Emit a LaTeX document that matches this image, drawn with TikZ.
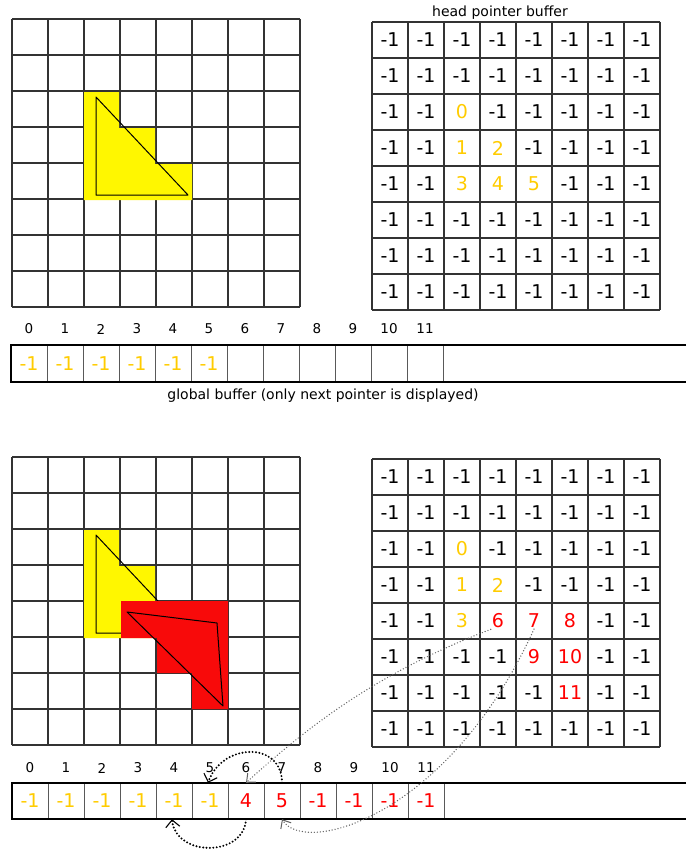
\documentclass[tikz,border=0pt]{standalone}
\usepackage{fontspec}
\setmainfont{DejaVu Sans}
\usetikzlibrary{arrows.meta}
\definecolor{gold}{HTML}{FFCC00}
\definecolor{fillyel}{HTML}{FFF700}
\definecolor{myred}{HTML}{FF0000}
\definecolor{fillred}{HTML}{F80A0A}
\begin{document}
\begin{tikzpicture}[x=1pt,y=-1pt,
  gridline/.style={line width=1.3pt, draw=black!80},
  divider/.style={line width=1.3pt, draw=black!65},
  outer/.style={line width=2pt, draw=black},
  val/.style={font=\fontsize{19}{19}\selectfont, inner sep=1pt},
  idx/.style={font=\fontsize{13.5}{14}\selectfont, inner sep=1pt},
  caption/.style={font=\fontsize{14}{15}\selectfont, inner sep=1pt},
  bufcell/.style={minimum width=36pt, minimum height=36pt, inner sep=0pt, font=\fontsize{19}{19}\selectfont},
  tri/.style={draw=black, line width=1pt, line join=round},
  bigdot/.style={draw=black, line width=2.2pt, line cap=round, dash pattern=on 0pt off 3.4pt,
     -{Straight Barb[length=7pt,width=14pt,line width=1.1pt]}},
  thindot/.style={draw=black!62, line width=1.4pt, line cap=round, dash pattern=on 0pt off 3pt,
     -{Straight Barb[length=7pt,width=12pt,line width=1pt]}}]
\fill[white] (0,0) rectangle (686,851);
\useasboundingbox (0,0) rectangle (686,851);

% ---------------- TOP ----------------
% left grid
\foreach \i in {0,...,8}{
  \draw[gridline] (12+36*\i,19) -- (12+36*\i,307);
  \draw[gridline] (12,19+36*\i) -- (300,19+36*\i);
}
\fill[fillyel] (84,92) -- (119,92) -- (119,128) -- (155,128) -- (155,164) -- (192,164)
  -- (192,200) -- (84,200) -- cycle;
\draw[tri] (96,97) -- (96,195) -- (188,195) -- cycle;

% right grid
\node[caption] (hpcap) at (500,13) {head pointer buffer};
\foreach \i in {0,...,8}{
  \draw[gridline] (372+36*\i,22) -- (372+36*\i,310);
  \draw[gridline] (372,22+36*\i) -- (660,22+36*\i);
}
\foreach \row [count=\r from 0] in {
  {black/-1,black/-1,black/-1,black/-1,black/-1,black/-1,black/-1,black/-1},
  {black/-1,black/-1,black/-1,black/-1,black/-1,black/-1,black/-1,black/-1},
  {black/-1,black/-1,gold/0,black/-1,black/-1,black/-1,black/-1,black/-1},
  {black/-1,black/-1,gold/1,gold/2,black/-1,black/-1,black/-1,black/-1},
  {black/-1,black/-1,gold/3,gold/4,gold/5,black/-1,black/-1,black/-1},
  {black/-1,black/-1,black/-1,black/-1,black/-1,black/-1,black/-1,black/-1},
  {black/-1,black/-1,black/-1,black/-1,black/-1,black/-1,black/-1,black/-1},
  {black/-1,black/-1,black/-1,black/-1,black/-1,black/-1,black/-1,black/-1}}{
  \foreach \col/\txt [count=\c from 0] in \row {
    \node[val, text=\col] (ht-\r-\c) at (390+36*\c, 40+36*\r) {\txt};
  }
}

% top buffer
\foreach \i in {0,...,11}{
  \node[bufcell] (ta\i) at (29+36*\i, 363.5) {};
  \draw[divider] (ta\i.north east) -- (ta\i.south east);
  \node[idx] (ti\i) at (29+36*\i, 329) {\i};
}
\foreach \i in {0,...,5}{
  \node[val, text=gold] (tv\i) at (ta\i) {-1};
}
\draw[outer] (686,345) -- (11,345) -- (11,382) -- (686,382);
\node[caption] (gbcap) at (323,396) {global buffer (only next pointer is displayed)};

% ---------------- BOTTOM ----------------
\foreach \i in {0,...,8}{
  \draw[gridline] (12+36*\i,457) -- (12+36*\i,745);
  \draw[gridline] (12,457+36*\i) -- (300,457+36*\i);
}
\fill[fillyel] (84,530) -- (119,530) -- (119,566) -- (155,566) -- (155,638) -- (84,638) -- cycle;
\draw[tri] (96,535) -- (96,633) -- (188,633) -- cycle;
\fill[fillred] (121,601) -- (228,601) -- (228,709) -- (192,709) -- (192,673) -- (157,673)
  -- (157,638) -- (121,638) -- cycle;
\draw[tri] (127,612) -- (217,623) -- (223,706) -- cycle;

\foreach \i in {0,...,8}{
  \draw[gridline] (372+36*\i,459) -- (372+36*\i,747);
  \draw[gridline] (372,459+36*\i) -- (660,459+36*\i);
}
\foreach \row [count=\r from 0] in {
  {black/-1,black/-1,black/-1,black/-1,black/-1,black/-1,black/-1,black/-1},
  {black/-1,black/-1,black/-1,black/-1,black/-1,black/-1,black/-1,black/-1},
  {black/-1,black/-1,gold/0,black/-1,black/-1,black/-1,black/-1,black/-1},
  {black/-1,black/-1,gold/1,gold/2,black/-1,black/-1,black/-1,black/-1},
  {black/-1,black/-1,gold/3,myred/6,myred/7,myred/8,black/-1,black/-1},
  {black/-1,black/-1,black/-1,black/-1,myred/9,myred/10,black/-1,black/-1},
  {black/-1,black/-1,black/-1,black/-1,black/-1,myred/11,black/-1,black/-1},
  {black/-1,black/-1,black/-1,black/-1,black/-1,black/-1,black/-1,black/-1}}{
  \foreach \col/\txt [count=\c from 0] in \row {
    \node[val, text=\col] (hb-\r-\c) at (390+36*\c, 477+36*\r) {\txt};
  }
}

% bottom buffer
\foreach \col/\txt [count=\i from 0] in {gold/-1,gold/-1,gold/-1,gold/-1,gold/-1,gold/-1,
    myred/4,myred/5,myred/-1,myred/-1,myred/-1,myred/-1}{
  \node[bufcell] (bb\i) at (30+36*\i, 801) {};
  \node[val, text=\col] (bv\i) at (bb\i) {\txt};
  \draw[divider] (bb\i.north east) -- (bb\i.south east);
  \node[idx] (bi\i) at (30+36*\i, 768) {\i};
}
\draw[outer] (686,783) -- (12,783) -- (12,819) -- (686,819);

% connectors
\draw[thindot] (hb-4-3.south west) .. controls (370,675) and (300,734) .. (bb6.north);
\draw[thindot] (hb-4-4.south) .. controls (448,818) and (304,856) .. (bb7.south);
\draw[bigdot] (bb7.north) .. controls +(0,-42) and +(14,-40) .. ([xshift=-2pt]bb5.north);
\draw[bigdot] (bb6.south) .. controls +(-2,38) and +(4,38) .. ([xshift=-2pt]bb4.south);
\end{tikzpicture}
\end{document}
